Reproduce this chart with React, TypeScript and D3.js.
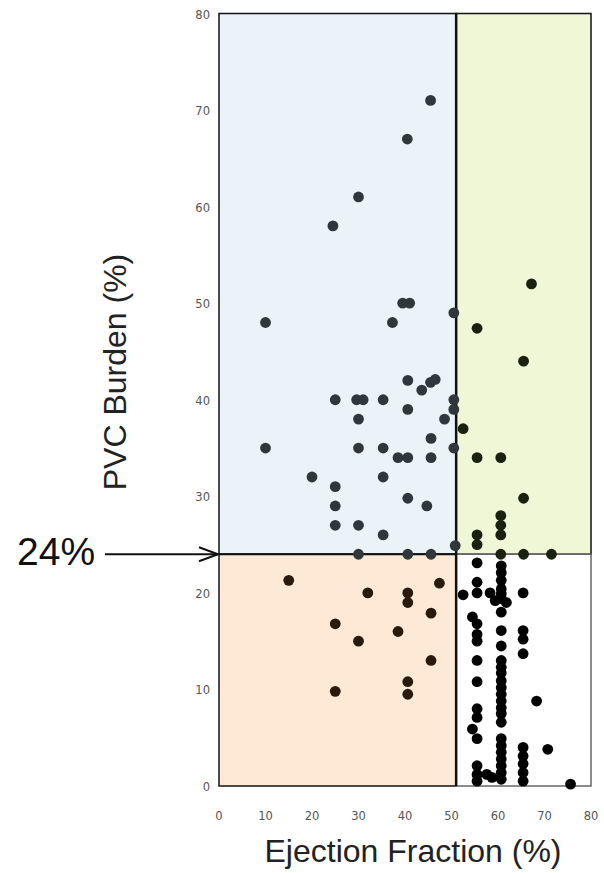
import React from "react";
import { scaleLinear } from "d3";

// [ejection fraction %, PVC burden %] per quadrant
const upperLeft: [number, number][] = [
  [45.5, 71], [40.5, 67], [30, 61], [24.5, 58],
  [39.5, 50], [41, 50], [50.5, 49], [10, 48], [37.3, 48],
  [40.6, 42], [45.5, 41.8], [46.5, 42.1], [43.6, 41],
  [25, 40], [29.6, 40], [31, 40], [35.3, 40], [50.5, 40], [50.5, 39], [40.6, 39],
  [30, 38], [48.5, 38], [45.6, 36], [10, 35], [30, 35], [35.3, 35], [50.5, 35],
  [38.5, 34], [40.6, 34], [45.6, 34], [20, 32], [35.3, 32], [25, 31],
  [40.6, 29.8], [25, 29], [44.7, 29], [25, 27], [30, 27], [35.3, 26],
  [50.8, 24.9], [30, 24], [40.6, 24], [45.6, 24],
];

const upperRight: [number, number][] = [
  [67.2, 52], [55.5, 47.4], [65.5, 44], [52.5, 37], [55.5, 34], [60.6, 34],
  [65.5, 29.8], [60.6, 28], [60.6, 27], [60.6, 26], [55.5, 26], [55.5, 25],
  [60.6, 24], [65.5, 24], [71.5, 24],
];

const lowerLeft: [number, number][] = [
  [15, 21.3], [47.4, 21], [32, 20], [40.6, 20], [40.6, 19], [45.6, 17.9],
  [25, 16.8], [38.5, 16], [30, 15], [45.6, 13], [40.6, 10.8], [40.6, 9.5], [25, 9.8],
];

const lowerRight: [number, number][] = [
  [52.5, 19.8],
  [55.5, 23.1], [55.5, 21.1], [55.5, 20.0], [54.5, 17.5], [55.5, 16.8], [55.5, 15.7],
  [55.5, 15.0], [55.5, 13.0], [55.5, 10.8], [55.5, 8.0], [55.5, 7.1], [54.5, 5.9],
  [55.5, 4.9], [55.5, 2.1], [55.5, 1.2], [55.5, 0.5],
  [57.6, 1.2], [58.7, 0.9], [58.3, 20.0], [59.4, 19.2], [61.8, 19.0],
  [60.7, 22.8], [60.7, 22.1], [60.7, 21.3], [60.7, 20.4], [60.7, 19.9], [60.7, 19.4],
  [60.7, 18.0], [60.7, 16.1], [60.7, 14.5], [60.7, 13.0], [60.7, 12.3], [60.7, 11.7],
  [60.7, 10.9], [60.7, 10.2], [60.7, 9.5], [60.7, 8.8], [60.7, 8.1], [60.7, 7.5],
  [60.7, 6.6], [60.7, 4.9], [60.7, 4.2], [60.7, 3.5], [60.7, 2.8], [60.7, 2.1],
  [60.7, 1.4], [60.7, 0.7],
  [65.4, 20.0], [65.4, 16.1], [65.4, 15.2], [65.4, 13.7], [65.4, 4.0], [65.4, 3.1],
  [65.4, 2.3], [65.4, 1.4], [65.4, 0.5],
  [68.3, 8.8], [70.7, 3.8], [75.6, 0.2],
];

const xTicks = [0, 10, 20, 30, 40, 50, 60, 70, 80];
const yTicks = [0, 10, 20, 30, 40, 50, 60, 70, 80];
const efCut = 51;
const pvcCut = 24;

const W = 604;
const H = 873;

export default function App() {
  const x = scaleLinear().domain([0, 80]).range([219, 591]);
  const y = scaleLinear().domain([0, 80]).range([786, 13.5]);

  const groups = [
    { pts: upperLeft, color: "#30373b" },
    { pts: upperRight, color: "#1b2110" },
    { pts: lowerLeft, color: "#2a1a0c" },
    { pts: lowerRight, color: "#000" },
  ];

  return (
    <svg width={W} height={H} style={{ position: "absolute", left: 0, top: 0, background: "#fff" }}>
      {/* quadrants */}
      <rect x={x(0)} y={y(80)} width={x(efCut) - x(0)} height={y(pvcCut) - y(80)}
        fill="#eaf3f7" stroke="#111" strokeWidth={1.5} />
      <rect x={x(efCut)} y={y(80)} width={x(80) - x(efCut)} height={y(pvcCut) - y(80)}
        fill="#eff7d7" stroke="#111" strokeWidth={1.5} />
      <rect x={x(0)} y={y(pvcCut)} width={x(efCut) - x(0)} height={y(0) - y(pvcCut)}
        fill="#fde9d5" stroke="#111" strokeWidth={1.5} />
      <rect x={x(efCut)} y={y(pvcCut)} width={x(80) - x(efCut)} height={y(0) - y(pvcCut)}
        fill="#fff" stroke="#666" strokeWidth={1.5} />
      <line x1={x(efCut)} x2={x(efCut)} y1={y(80)} y2={y(0)} stroke="#111" strokeWidth={2.5} />
      <line x1={x(0)} x2={x(efCut)} y1={y(pvcCut)} y2={y(pvcCut)} stroke="#111" strokeWidth={2} />

      {/* points */}
      {groups.map((g, gi) =>
        g.pts.map((d, i) => (
          <circle key={gi + "-" + i} cx={x(d[0])} cy={y(d[1])} r={5.4} fill={g.color} />
        ))
      )}

      {/* tick labels */}
      {xTicks.map((t) => (
        <text key={"x" + t} x={x(t)} y={820} textAnchor="middle"
          fontFamily="DejaVu Sans" fontSize={11.5} fill="#555">{t}</text>
      ))}
      {yTicks.map((t) => (
        <text key={"y" + t} x={210} y={y(t) + 5} textAnchor="end"
          fontFamily="DejaVu Sans" fontSize={11.5} fill="#555">{t}</text>
      ))}

      {/* axis titles */}
      <text x={413} y={862} textAnchor="middle" fontFamily="Liberation Sans, Arial"
        fontSize={32} fill="#222">Ejection Fraction (%)</text>
      <text transform={`translate(126, ${372}) rotate(-90)`} textAnchor="middle"
        fontFamily="Liberation Sans, Arial" fontSize={32} fill="#222">PVC Burden (%)</text>

      {/* 24% annotation */}
      <text x={17} y={565} fontFamily="Liberation Sans, Arial" fontSize={39} fill="#111">24%</text>
      <line x1={105} x2={x(0) - 1} y1={y(pvcCut)} y2={y(pvcCut)} stroke="#111" strokeWidth={2} />
      <polyline
        points={`${x(0) - 20},${y(pvcCut) - 7} ${x(0) - 1},${y(pvcCut)} ${x(0) - 20},${y(pvcCut) + 7}`}
        fill="none" stroke="#111" strokeWidth={2} />
    </svg>
  );
}
